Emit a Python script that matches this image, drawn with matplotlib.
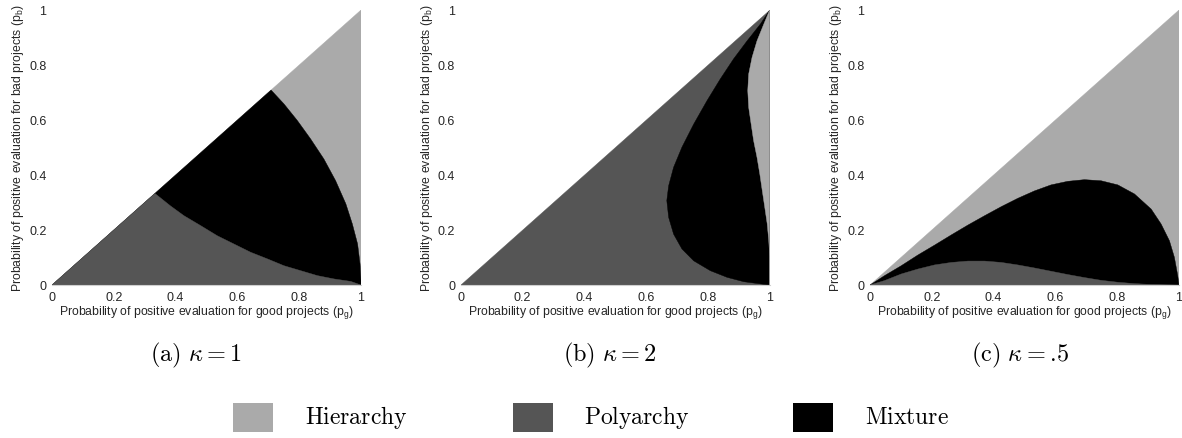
import matplotlib
matplotlib.use("Agg")
import matplotlib.pyplot as plt
from matplotlib.patches import Rectangle

# ---------------- data ----------------
# Panel (a) kappa = 1 : polyarchy/mixture boundary and mixture/hierarchy boundary
a_poly_pg = [0.0, 0.333, 0.383, 0.427, 0.481, 0.535, 0.589, 0.643, 0.697, 0.751,
             0.805, 0.859, 0.913, 0.967, 1.0]
a_poly_pb = [0.0, 0.333, 0.288, 0.252, 0.216, 0.179, 0.149, 0.119, 0.095, 0.070,
             0.052, 0.034, 0.022, 0.013, 0.0]
a_mix_pg = [0.0, 0.709, 0.751, 0.794, 0.837, 0.880, 0.918, 0.951, 0.972, 0.989,
            0.997, 1.0, 1.0]
a_mix_pb = [0.0, 0.709, 0.658, 0.598, 0.531, 0.458, 0.379, 0.295, 0.222, 0.149,
            0.076, 0.016, 0.0]

# Panel (b) kappa = 2 (boundaries from the top corner (1,1) downwards)
b_left_pg = [1.0, 0.970, 0.927, 0.883, 0.840, 0.797, 0.754, 0.716, 0.689, 0.673,
             0.667, 0.673, 0.689, 0.716, 0.754, 0.808, 0.862, 0.916, 0.970, 1.0]
b_left_pb = [1.0, 0.949, 0.888, 0.822, 0.749, 0.670, 0.585, 0.501, 0.428, 0.361,
             0.307, 0.246, 0.185, 0.131, 0.088, 0.052, 0.028, 0.012, 0.004, 0.0]
b_right_pg = [1.0, 0.981, 0.959, 0.943, 0.932, 0.929, 0.932, 0.940, 0.948, 0.959,
              0.968, 0.976, 0.984, 0.992, 0.997, 1.0]
b_right_pb = [1.0, 0.949, 0.888, 0.828, 0.767, 0.707, 0.646, 0.585, 0.525, 0.464,
              0.404, 0.343, 0.283, 0.222, 0.161, 0.101]

# Panel (c) kappa = .5
c_mix_pg = [0.0, 0.047, 0.101, 0.155, 0.209, 0.263, 0.317, 0.371, 0.425, 0.478,
            0.532, 0.586, 0.640, 0.694, 0.748, 0.802, 0.856, 0.910, 0.942, 0.969,
            0.985, 0.996, 1.0]
c_mix_pb = [0.0, 0.034, 0.070, 0.109, 0.145, 0.182, 0.218, 0.252, 0.285, 0.315,
            0.342, 0.364, 0.377, 0.383, 0.379, 0.364, 0.331, 0.276, 0.222, 0.161,
            0.101, 0.034, 0.0]
c_poly_pg = [0.0, 0.047, 0.101, 0.155, 0.209, 0.263, 0.317, 0.371, 0.425, 0.478,
             0.532, 0.586, 0.640, 0.694, 0.748, 0.802, 0.856, 0.910, 1.0]
c_poly_pb = [0.0, 0.016, 0.040, 0.058, 0.073, 0.082, 0.087, 0.087, 0.082, 0.073,
             0.062, 0.050, 0.038, 0.027, 0.017, 0.010, 0.005, 0.002, 0.0]

tri_pg = [0.0, 1.0, 1.0]
tri_pb = [0.0, 0.0, 1.0]

captions = [r"$\mathrm{(a)}\ \kappa=1$", r"$\mathrm{(b)}\ \kappa=2$", r"$\mathrm{(c)}\ \kappa=.\!5$"]
legend_labels = ["Hierarchy", "Polyarchy", "Mixture"]
ticks = [0, 0.2, 0.4, 0.6, 0.8, 1]
tick_labels = ["0", "0.2", "0.4", "0.6", "0.8", "1"]

C_HIER = "#aaaaaa"
C_POLY = "#555555"
C_MIX = "#000000"

plt.rcParams["font.family"] = ["Liberation Sans", "DejaVu Sans"]

W, H = 1182, 439
fig = plt.figure(figsize=(W / 100, H / 100), dpi=100)

lefts = [52, 460.7, 870]
ax_w = 309
ax_top, ax_bot = 11, 286

axes = []
for L in lefts:
    ax = fig.add_axes([L / W, 1 - ax_bot / H, ax_w / W, (ax_bot - ax_top) / H])
    axes.append(ax)


def fill(ax, x, y, c):
    ax.fill(x, y, color=c, lw=0.3, ec=c, antialiased=True)


# (a)
ax = axes[0]
fill(ax, tri_pg, tri_pb, C_HIER)
fill(ax, a_mix_pg, a_mix_pb, C_MIX)
fill(ax, a_poly_pg, a_poly_pb, C_POLY)
# (b)
ax = axes[1]
fill(ax, tri_pg, tri_pb, C_POLY)
fill(ax, b_left_pg, b_left_pb, C_MIX)
fill(ax, b_right_pg + [1.0], b_right_pb + [0.0], C_HIER)
# (c)
ax = axes[2]
fill(ax, tri_pg, tri_pb, C_HIER)
fill(ax, c_mix_pg, c_mix_pb, C_MIX)
fill(ax, c_poly_pg, c_poly_pb, C_POLY)

for ax in axes:
    ax.set_xlim(0, 1)
    ax.set_ylim(0, 1)
    ax.set_xticks(ticks)
    ax.set_xticklabels(tick_labels)
    ax.set_yticks(ticks)
    ax.set_yticklabels(tick_labels)
    ax.tick_params(length=0, labelsize=9, colors="#262626", pad=4)
    for s in ["top", "right", "left"]:
        ax.spines[s].set_visible(False)
    ax.spines["bottom"].set_color("#d0d0d0")
    ax.spines["bottom"].set_linewidth(0.8)
    ax.set_xlabel(r"Probability of positive evaluation for good projects (p$_\mathregular{g}$)",
                  fontsize=8.8, labelpad=0, color="#262626")
    ax.set_ylabel(r"Probability of positive evaluation for bad projects (p$_\mathregular{b}$)",
                  fontsize=8.8, labelpad=2, color="#262626")

cap_x = [196, 610, 1020]
for x, t in zip(cap_x, captions):
    fig.text(x / W, 1 - 355 / H, t, ha="center", va="center", fontsize=17.5,
             math_fontfamily="cm")

sq_x = [233, 513, 793]
txt_x = [305, 584, 865]
for sx, tx, lab, c in zip(sq_x, txt_x, legend_labels, [C_HIER, C_POLY, C_MIX]):
    fig.add_artist(Rectangle((sx / W, 1 - 433 / H), 40 / W, 29 / H,
                             transform=fig.transFigure, color=c, lw=0))
    fig.text(tx / W, 1 - 418 / H, r"$\mathrm{%s}$" % lab, ha="left", va="center",
             fontsize=17, math_fontfamily="cm")

fig.savefig("out.png", dpi=100)
